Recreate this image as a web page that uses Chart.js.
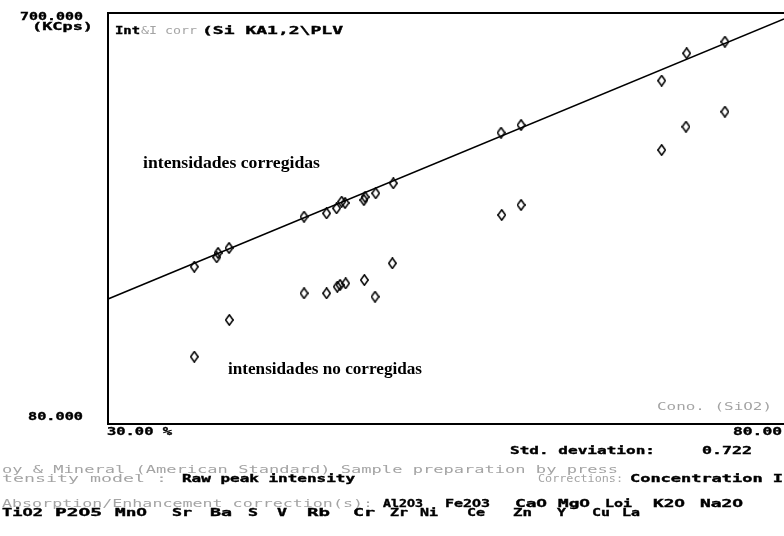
<!DOCTYPE html>
<html><head><meta charset="utf-8">
<script src="https://cdn.jsdelivr.net/npm/chart.js@4.4.1/dist/chart.umd.min.js"></script>
<style>
html,body{margin:0;padding:0;background:#fff;}
#wrap{position:relative;width:784px;height:536px;overflow:hidden;background:#fff;}
#c{position:absolute;left:0;top:0;}
.t{position:absolute;white-space:pre;font-family:"DejaVu Sans Mono",monospace;font-size:10px;line-height:10px;font-weight:bold;color:#000;transform-origin:0 0;-webkit-text-stroke:0.35px #000;}
.g{font-weight:normal;color:#a4a4a4;-webkit-text-stroke:0;}
.s{font-family:"Liberation Serif","Times New Roman",serif;font-size:16px;line-height:16px;font-weight:bold;-webkit-text-stroke:0;}
</style></head><body><div id="wrap"><canvas id="c" width="784" height="536"></canvas></div>
<script>
// ---- data ----
const corrConc = [36.38, 38.04, 38.14, 38.95, 44.50, 46.17, 46.91, 47.28, 47.53, 48.93, 49.01, 49.80, 51.10, 59.07, 60.55, 70.95, 72.80, 75.63];
const corrInt  = [317.3, 331.5, 338.0, 345.5, 392.7, 397.8, 405.4, 415.3, 413.4, 417.9, 422.4, 428.0, 443.1, 519.4, 531.0, 597.9, 639.2, 656.7];
const rawConc  = [36.38, 38.97, 44.50, 46.17, 46.96, 47.16, 47.58, 48.96, 49.75, 51.03, 59.12, 60.55, 70.95, 72.75, 75.63];
const rawInt   = [181.5, 236.9, 277.2, 277.2, 287.1, 289.7, 292.2, 297.2, 272.0, 322.4, 395.3, 410.4, 493.3, 528.5, 551.1];
const fitConc  = [30, 80];
const fitInt   = [268.6, 691.0];
const xRange   = [30, 80];
const yRange   = [80, 700];
const xTickLabels = ['30.00 %', '80.00'];
const yTickLabels = ['700.000', '80.000'];
const yUnit = '(KCps)';
const line3Elements = ['Al2O3','Fe2O3','CaO','MgO','Loi','K2O','Na2O'];
const line4Elements = ['TiO2','P2O5','MnO','Sr','Ba','S','V','Rb','Cr','Zr','Ni','Ce','Zn','Y','Cu','La'];

const toPts = (xs, ys) => xs.map((x, i) => ({x: x, y: ys[i]}));

// diamond marker (slightly taller than wide)
const dia = document.createElement('canvas');
dia.width = 9; dia.height = 12;
(function(){
  const g = dia.getContext('2d');
  g.strokeStyle = '#000'; g.lineWidth = 1.5;
  g.beginPath(); g.moveTo(4.5, 0.8); g.lineTo(8.2, 6); g.lineTo(4.5, 11.2); g.lineTo(0.8, 6); g.closePath(); g.stroke();
})();

const frame = {
  id: 'frame',
  beforeDatasetsDraw(chart) {
    const a = chart.chartArea, c = chart.ctx;
    c.save(); c.strokeStyle = '#000'; c.lineWidth = 2;
    c.beginPath();
    c.moveTo(a.right + 2, a.top); c.lineTo(a.left, a.top); c.lineTo(a.left, a.bottom); c.lineTo(a.right + 2, a.bottom);
    c.stroke(); c.restore();
  }
};

new Chart(document.getElementById('c'), {
  type: 'scatter',
  data: { datasets: [
    { label: 'fit', data: toPts(fitConc, fitInt), showLine: true, borderColor: '#000', borderWidth: 1.6, pointRadius: 0, fill: false, clip: false },
    { label: 'intensidades corregidas', data: toPts(corrConc, corrInt), pointStyle: dia, pointRadius: 5, clip: false },
    { label: 'intensidades no corregidas', data: toPts(rawConc, rawInt), pointStyle: dia, pointRadius: 5, clip: false }
  ]},
  options: {
    responsive: false, animation: false, devicePixelRatio: 1,
    layout: { autoPadding: false, padding: { left: 108, top: 13, right: 0, bottom: 112 } },
    scales: {
      x: { type: 'linear', min: xRange[0], max: xRange[1], display: false },
      y: { type: 'linear', min: yRange[0], max: yRange[1], display: false }
    },
    plugins: { legend: { display: false }, tooltip: { enabled: false } }
  },
  plugins: [frame]
});

// ---- text ----
const wrap = document.getElementById('wrap');
function put(text, x, capTop, w, cls) {
  const s = document.createElement('div');
  s.className = 't' + (cls ? ' ' + cls : '');
  s.textContent = text;
  wrap.appendChild(s);
  const off = (cls === 's') ? 2.5 : 1;
  s.style.left = x + 'px';
  s.style.top = (capTop - off) + 'px';
  const nat = s.getBoundingClientRect().width;
  if (w && nat > 0) s.style.transform = 'scaleX(' + (w / nat) + ')';
  return s;
}
put(yTickLabels[0], 20, 13, 63);
put(yUnit, 32, 23, 61);
put(yTickLabels[1], 28, 413, 55);
put(xTickLabels[0], 107, 428, 65);
put(xTickLabels[1], 733, 428, 49);
put('Cono. (SiO2)', 657, 403, 115, 'g');
put('Int', 115, 27, 25);
put('&I corr', 141, 27, 56, 'g');
put('(Si KA1,2\\PLV', 202, 27, 141);
put('Std. deviation:', 510, 447, 145);
put('0.722', 702, 447, 50);
put('oy & Mineral (American Standard) Sample preparation by press', 2, 466, 616, 'g');
put('tensity model :', 2, 475, 165, 'g');
put('Raw peak intensity', 182, 475, 173);
put('Corrections:', 538, 475, 85, 'g');
put('Concentration I', 630, 475, 153);
put('Absorption/Enhancement correction(s):', 2, 500, 371, 'g');
const l3x = [383, 445, 515, 558, 605, 653, 700];
const l3w = [40, 45, 32, 32, 27, 32, 43];
line3Elements.forEach((e, i) => put(e, l3x[i], 500, l3w[i]));
const l4x = [2, 55, 115, 172, 210, 248, 277, 307, 353, 390, 420, 467, 513, 557, 592, 622];
const l4w = [41, 47, 32, 20, 22, 10, 10, 23, 22, 18, 18, 18, 19, 9, 18, 18];
line4Elements.forEach((e, i) => put(e, l4x[i], 509, l4w[i]));
put('intensidades corregidas', 143, 157, 177, 's');
put('intensidades no corregidas', 228, 363, 194, 's');
</script></body></html>
